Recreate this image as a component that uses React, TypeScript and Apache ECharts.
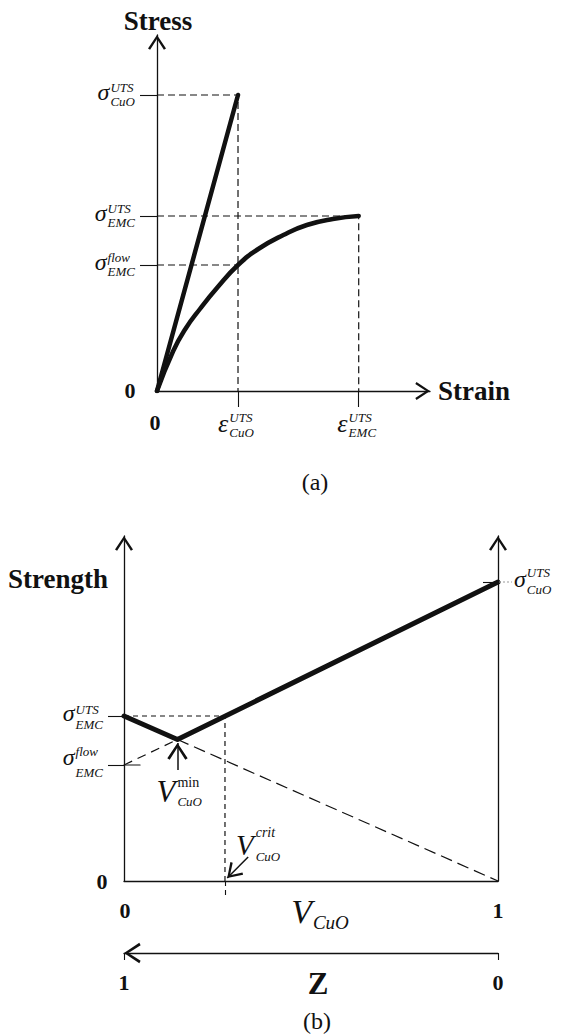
import React, { useEffect, useRef } from 'react';
import * as echarts from 'echarts';

// ---------------- Panel (a): stress–strain (relative units)
const aStrainMax = 3.37;
const aStressMax = 356;
const strainTicks = [1, 2.49]; // ε_CuO^UTS, ε_EMC^UTS
const strainTickSub = ['CuO', 'EMC'];
const stressTicks = [126, 175, 296]; // σ_EMC^flow, σ_EMC^UTS, σ_CuO^UTS
const stressTickSup = ['flow', 'UTS', 'UTS'];
const stressTickSub = ['EMC', 'EMC', 'CuO'];
const cuoStrain = [0, 1];
const cuoStress = [0, 296];
const emcStrain = [0, 0.2, 0.35, 0.53, 0.75, 1.0, 1.25, 1.56, 1.85, 2.17, 2.49];
const emcStress = [0, 40, 62, 82, 104, 126, 142, 156, 166, 172, 175];

// ---------------- Panel (b): strength vs V_CuO
const bStrengthMax = 345;
const vTicks = [0.143, 0.27]; // V_CuO^min, V_CuO^crit
const strengthTicksLeft = [116, 165]; // σ_EMC^flow, σ_EMC^UTS
const strengthTicksRight = [299]; // σ_CuO^UTS
const envelopeV = [0, 0.143, 1];
const envelopeS = [165, 141.5, 299];
const flowTickInner = 0.043;
const vMinArrowS = [111, 138];
const vCritArrowV = [0.332, 0.276];
const vCritArrowS = [24, 3];
const vAxisValues = [0, 1];
const zAxisValues = [0, 1];

const INK = '#111';
const FONT = '"Liberation Serif", "Times New Roman", serif';
const CHEVRON = 'path://M0,0 M100,100 M50,50 L80,95 L73,99 L50,63 L27,99 L20,95 Z';

const zip = (xs: number[], ys: number[]) => xs.map((x, i) => [x, ys[i]]);

let measureCtx: CanvasRenderingContext2D | null = null;
function textW(t: string, size: number, italic = false, bold = false) {
  if (!measureCtx) measureCtx = document.createElement('canvas').getContext('2d');
  if (!measureCtx || !t) return 0;
  measureCtx.font = `${italic ? 'italic ' : ''}${bold ? 'bold ' : ''}${size}px ${FONT}`;
  return measureCtx.measureText(t).width;
}

function txt(text: string, x: number, baseline: number, size: number, o: any = {}) {
  const align = o.align || 'left';
  return {
    type: 'text',
    x,
    y: baseline - 0.32 * size,
    silent: true,
    z: 100,
    style: {
      text,
      fontSize: size,
      fontFamily: FONT,
      fontStyle: o.italic ? 'italic' : 'normal',
      fontWeight: o.bold ? 'bold' : 'normal',
      fill: INK,
      align,
      verticalAlign: 'middle',
      textAlign: align,
      textVerticalAlign: 'middle',
    },
  };
}

function script(main: string, sup: string, sub: string, o: any) {
  const supSize = o.supSize || 13;
  const subSize = o.subSize || 13;
  const mw = textW(main, o.mainSize, true);
  const sw = Math.max(textW(sup, supSize, !o.supUpright), textW(sub, subSize, true));
  const gap = o.gap ?? 1;
  const total = mw + gap + sw;
  const left = o.anchor === 'right' ? o.x - total : o.anchor === 'center' ? o.x - total / 2 : o.x;
  const out: any[] = [txt(main, left, o.mainBase, o.mainSize, { italic: true })];
  if (sup) out.push(txt(sup, left + mw + gap, o.supBase, supSize, { italic: !o.supUpright }));
  if (sub) out.push(txt(sub, left + mw + gap, o.subBase, subSize, { italic: true }));
  return out;
}

const solid = (data: number[][], xi: number, yi: number, width: number, smooth = false) => ({
  type: 'line',
  xAxisIndex: xi,
  yAxisIndex: yi,
  data,
  symbol: 'none',
  smooth,
  silent: true,
  z: 3,
  emphasis: { disabled: true },
  lineStyle: { color: INK, width, cap: 'round', join: 'round' },
});

const dashed = (data: number[][], xi: number, yi: number, dash: number[], width = 1.2) => ({
  ...solid(data, xi, yi, width),
  z: 2,
  lineStyle: { color: INK, width, type: dash },
});

const axisLine = (arrow: 'end' | 'start' | 'none', size = 30) => ({
  onZero: false,
  lineStyle: { color: INK, width: 1.3 },
  symbol: arrow === 'end' ? ['none', CHEVRON] : arrow === 'start' ? [CHEVRON, 'none'] : ['none', 'none'],
  symbolSize: [size, size],
});

const tick = (values: number[], length: number, extra: any = {}) => ({
  show: true,
  customValues: values,
  length,
  ...extra,
  lineStyle: { color: INK, width: 1.1, ...(extra.lineStyle || {}) },
});

function baseOption(): any {
  return {
    animation: false,
    backgroundColor: '#fff',
    grid: [
      { left: 157, top: 35, width: 273, height: 356, outerBoundsMode: 'none' },
      { left: 124, top: 536, width: 374, height: 345, outerBoundsMode: 'none' },
    ],
    xAxis: [
      {
        gridIndex: 0, type: 'value', position: 'bottom', min: 0, max: aStrainMax,
        axisLine: axisLine('end'), axisTick: tick(strainTicks, 16),
        axisLabel: { show: false }, splitLine: { show: false },
      },
      {
        gridIndex: 1, type: 'value', position: 'bottom', min: 0, max: 1,
        axisLine: axisLine('none'), axisTick: tick([vTicks[1]], 14, { lineStyle: { type: [5, 4] } }),
        axisLabel: { show: false }, splitLine: { show: false },
      },
      {
        gridIndex: 1, type: 'value', position: 'bottom', offset: 72, inverse: true, min: 0, max: 1,
        axisLine: axisLine('start', 34), axisTick: tick(zAxisValues, 7),
        axisLabel: { show: false }, splitLine: { show: false },
      },
    ],
    yAxis: [
      {
        gridIndex: 0, type: 'value', position: 'left', min: 0, max: aStressMax,
        axisLine: axisLine('end'), axisTick: tick(stressTicks, 17),
        axisLabel: { show: false }, splitLine: { show: false },
      },
      {
        gridIndex: 1, type: 'value', position: 'left', min: 0, max: bStrengthMax,
        axisLine: axisLine('end'), axisTick: tick(strengthTicksLeft, 16),
        axisLabel: { show: false }, splitLine: { show: false },
      },
      {
        gridIndex: 1, type: 'value', position: 'right', min: 0, max: bStrengthMax,
        axisLine: axisLine('end'), axisTick: tick(strengthTicksRight, 15, { inside: true }),
        axisLabel: { show: false }, splitLine: { show: false },
      },
    ],
    series: [
      // panel (a)
      solid(zip(cuoStrain, cuoStress), 0, 0, 4.5),
      solid(zip(emcStrain, emcStress), 0, 0, 4.5, true),
      dashed([[0, stressTicks[2]], [strainTicks[0], stressTicks[2]], [strainTicks[0], 0]], 0, 0, [7, 4]),
      dashed([[0, stressTicks[1]], [strainTicks[1], stressTicks[1]], [strainTicks[1], 0]], 0, 0, [7, 4]),
      dashed([[0, stressTicks[0]], [strainTicks[0], stressTicks[0]]], 0, 0, [7, 4]),
      // panel (b)
      solid(zip(envelopeV, envelopeS), 1, 1, 5),
      dashed([[0, strengthTicksLeft[0]], [envelopeV[1], envelopeS[1]]], 1, 1, [9, 6]),
      dashed([[envelopeV[1], envelopeS[1]], [1, 0]], 1, 1, [12, 6]),
      dashed([[0, strengthTicksLeft[1]], [vTicks[1], strengthTicksLeft[1]], [vTicks[1], 0]], 1, 1, [5, 4]),
      solid([[0, strengthTicksLeft[0]], [flowTickInner, strengthTicksLeft[0]]], 1, 1, 1.1),
      {
        type: 'lines',
        coordinateSystem: 'cartesian2d',
        xAxisIndex: 1,
        yAxisIndex: 1,
        silent: true,
        z: 4,
        symbol: ['none', CHEVRON],
        symbolSize: 34,
        lineStyle: { color: INK, width: 1.5, opacity: 1 },
        data: [
          { coords: [[vTicks[0], vMinArrowS[0]], [vTicks[0], vMinArrowS[1]]] },
          { coords: [[vCritArrowV[0], vCritArrowS[0]], [vCritArrowV[1], vCritArrowS[1]]], symbolSize: 30 },
        ],
      },
    ],
  };
}

function buildGraphics(chart: any) {
  const pa = (x: number, y: number) => chart.convertToPixel({ gridIndex: 0 }, [x, y]) as number[];
  const pb = (x: number, y: number) => chart.convertToPixel({ gridIndex: 1 }, [x, y]) as number[];
  const els: any[] = [];

  // ---- panel (a)
  const [ax0, ay0] = pa(0, 0);
  const [, ayTop] = pa(0, aStressMax);
  const [axEnd] = pa(aStrainMax, 0);
  els.push(txt('Stress', ax0 + 1, ayTop - 5, 27, { bold: true, align: 'center' }));
  els.push(txt('Strain', axEnd + 8, ay0 + 9, 27, { bold: true }));
  els.push(txt('0', ax0 - 27, ay0 + 7, 22, { bold: true, align: 'center' }));
  els.push(txt('0', ax0 - 2, ay0 + 39, 22, { bold: true, align: 'center' }));
  stressTicks.forEach((v, i) => {
    const [, y] = pa(0, v);
    els.push(...script('σ', stressTickSup[i], stressTickSub[i], {
      anchor: 'right', x: ax0 - 22, mainBase: y + 5, supBase: y - 3, subBase: y + 11, mainSize: 24,
    }));
  });
  strainTicks.forEach((v, i) => {
    const [x] = pa(v, 0);
    els.push(...script('ε', 'UTS', strainTickSub[i], {
      anchor: 'center', x: x - 2, mainBase: ay0 + 41, supBase: ay0 + 31, subBase: ay0 + 46, mainSize: 26,
    }));
  });
  els.push(txt('(a)', 315, 490, 24, { align: 'center' }));

  // ---- panel (b)
  const [bx0, by0] = pb(0, 0);
  const [bx1] = pb(1, 0);
  const zy = by0 + 72;
  els.push(txt('Strength', 8, 588, 27, { bold: true }));
  {
    const [, yf] = pb(0, strengthTicksLeft[0]);
    els.push(...script('σ', 'flow', 'EMC', { anchor: 'right', x: bx0 - 21, mainBase: yf, supBase: yf - 9, subBase: yf + 12, mainSize: 24 }));
    const [, yu] = pb(0, strengthTicksLeft[1]);
    els.push(...script('σ', 'UTS', 'EMC', { anchor: 'right', x: bx0 - 21, mainBase: yu + 5, supBase: yu - 2, subBase: yu + 13, mainSize: 24 }));
    const [, yc] = pb(1, strengthTicksRight[0]);
    els.push(...script('σ', 'UTS', 'CuO', { anchor: 'left', x: bx1 + 16, mainBase: yc + 5, supBase: yc - 5, subBase: yc + 12, mainSize: 24 }));
    els.push({
      type: 'line', silent: true, z: 100,
      shape: { x1: bx1 + 1, y1: yc, x2: bx1 + 14, y2: yc },
      style: { stroke: '#999', lineWidth: 1, lineDash: [2, 2] },
    });
  }
  els.push(txt('0', bx0 - 22, by0 + 8, 22, { bold: true, align: 'center' }));
  vAxisValues.forEach((v) => {
    const [x] = pb(v, 0);
    els.push(txt(String(v), x + (v === 0 ? 1 : 0), by0 + 37, 22, { bold: true, align: 'center' }));
  });
  els.push(...script('V', '', 'CuO', {
    anchor: 'center', x: (bx0 + bx1) / 2 + 9, mainBase: by0 + 41, subBase: by0 + 48, mainSize: 34, subSize: 19,
  }));
  zAxisValues.forEach((z) => {
    const x = chart.convertToPixel({ xAxisIndex: 2 }, z) as number;
    els.push(txt(String(z), x, zy + 37, 22, { bold: true, align: 'center' }));
  });
  els.push(txt('Z', (bx0 + bx1) / 2 + 7, zy + 40, 31, { bold: true, align: 'center' }));
  els.push(txt('(b)', 317, 1029, 24, { align: 'center' }));

  const [vmx] = pb(vTicks[0], 0);
  els.push(...script('V', 'min', 'CuO', {
    anchor: 'left', x: vmx - 21, mainBase: by0 - 80, supBase: by0 - 94, subBase: by0 - 75,
    mainSize: 31, supSize: 14, subSize: 13, supUpright: true, gap: 2,
  }));
  const [vcx] = pb(vTicks[1], 0);
  els.push(...script('V', 'crit', 'CuO', {
    anchor: 'left', x: vcx + 11, mainBase: by0 - 27, supBase: by0 - 44, subBase: by0 - 20,
    mainSize: 29, supSize: 14, subSize: 13, gap: 2,
  }));
  return els;
}

export default function App() {
  const ref = useRef<HTMLDivElement>(null);
  useEffect(() => {
    if (!ref.current) return;
    const chart = echarts.init(ref.current, null, { renderer: 'svg' });
    chart.setOption(baseOption());
    chart.setOption({ graphic: buildGraphics(chart) });
    return () => chart.dispose();
  }, []);
  return (
    <div
      ref={ref}
      style={{ position: 'absolute', left: 0, top: 0, width: 561, height: 1035, background: '#fff' }}
    />
  );
}
